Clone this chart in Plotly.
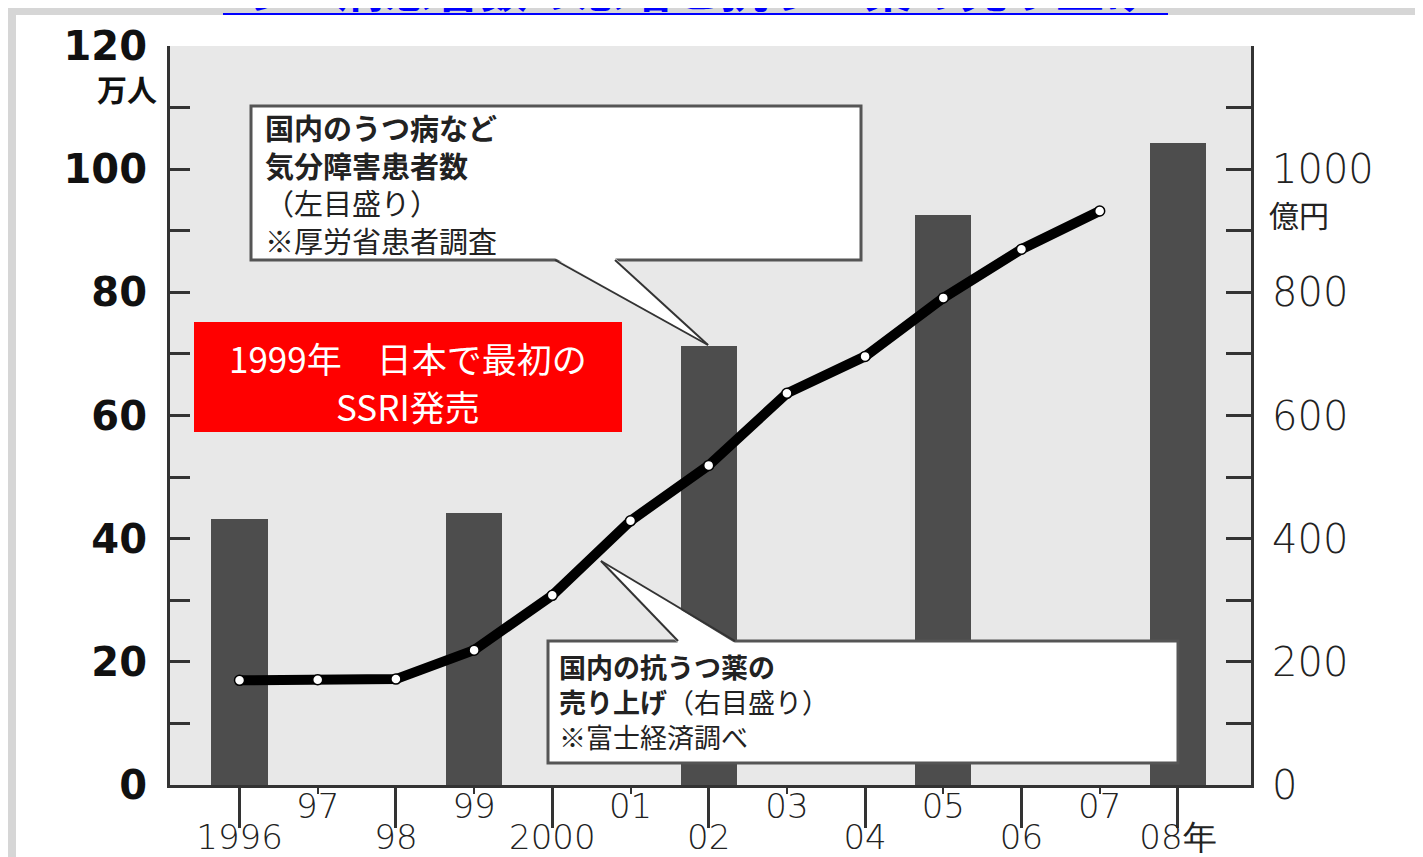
import plotly.graph_objects as go

# ---------------- data ----------------
bar_years = [1996, 1999, 2002, 2005, 2008]
patients = [43.2, 44.2, 71.3, 92.5, 104.2]          # 万人 (left axis)

sales_years = [1996, 1997, 1998, 1999, 2000, 2001, 2002, 2003, 2004, 2005, 2006, 2007]
sales = [170, 171, 172, 219, 308, 429, 519, 636, 696, 791, 870, 932]   # 億円 (right axis)

even_ticks = [1996, 1998, 2000, 2002, 2004, 2006, 2008]
even_labels = ["1996", "98", "2000", "02", "04", "06", "08年"]
odd_ticks = [1997, 1999, 2001, 2003, 2005, 2007]
odd_labels = ["97", "99", "01", "03", "05", "07"]

left_ticks = [0, 20, 40, 60, 80, 100, 120]
right_ticks = [0, 200, 400, 600, 800, 1000]

# ---------------- layout geometry ----------------
W, H = 1423, 857
ML, MR, MT, MB = 162, 180, 38, 80
PW, PH = W - ML - MR, H - MT - MB


def X(px):
    return (px - ML) / PW


def Y(py):
    return (H - MB - py) / PH


AX = "#333333"
TXT = "#111111"

fig = go.Figure()

fig.add_trace(go.Bar(
    x=bar_years, y=patients, width=0.72,
    marker=dict(color="#4d4d4d", line=dict(width=0)),
    yaxis="y", xaxis="x", showlegend=False, hoverinfo="x+y",
))

fig.add_trace(go.Scatter(
    x=sales_years, y=sales, yaxis="y2", xaxis="x",
    mode="lines+markers",
    line=dict(color="black", width=10),
    marker=dict(size=10, color="white", line=dict(color="black", width=1.5)),
    showlegend=False,
))

# invisible helper trace so that the odd-year overlay axis is drawn
fig.add_trace(go.Scatter(
    x=odd_ticks, y=[None] * len(odd_ticks), xaxis="x2", yaxis="y",
    mode="markers", showlegend=False, hoverinfo="skip",
))

xrange_ = [1995.111, 2008.935]
XFONT = dict(family="DejaVu Sans", size=34, color="#222", weight=300)

fig.update_layout(
    width=W, height=H,
    margin=dict(l=ML, r=MR, t=MT, b=MB, autoexpand=False),
    paper_bgcolor="white",
    plot_bgcolor="#e8e8e8",
    bargap=0,
    xaxis=dict(
        range=xrange_, tickmode="array", tickvals=even_ticks, ticktext=even_labels,
        ticks="outside", ticklen=40, tickwidth=3, tickcolor=AX,
        showline=True, linewidth=3, linecolor=AX, showgrid=False, zeroline=False,
        tickfont=XFONT, ticklabelstandoff=-20, fixedrange=True,
    ),
    xaxis2=dict(
        range=xrange_, overlaying="x", anchor="y", side="bottom",
        tickmode="array", tickvals=odd_ticks, ticktext=odd_labels,
        ticks="outside", ticklen=8, tickwidth=2, tickcolor=AX,
        showline=False, showgrid=False, zeroline=False,
        tickfont=XFONT, ticklabelstandoff=-17, fixedrange=True,
    ),
    yaxis=dict(
        range=[0, 120], tickmode="array", tickvals=left_ticks,
        ticks="inside", ticklen=20, tickwidth=3, tickcolor=AX,
        minor=dict(dtick=10, ticks="inside", ticklen=20, tickwidth=3, tickcolor=AX, showgrid=False),
        showline=True, linewidth=3, linecolor=AX, showgrid=False, zeroline=False,
        tickfont=dict(family="DejaVu Sans", size=40, color=TXT, weight="bold"),
        ticklabelstandoff=12, fixedrange=True,
    ),
    yaxis2=dict(
        range=[0, 1200], overlaying="y", side="right", anchor="x",
        tickmode="array", tickvals=right_ticks,
        ticks="inside", ticklen=25, tickwidth=3, tickcolor=AX,
        minor=dict(dtick=100, ticks="inside", ticklen=25, tickwidth=3, tickcolor=AX, showgrid=False),
        showline=True, linewidth=3, linecolor=AX, showgrid=False, zeroline=False,
        tickfont=dict(family="DejaVu Sans", size=40, color="#222", weight=300),
        ticklabelstandoff=10, fixedrange=True,
    ),
)

shapes = []
# textured page border strips
for (x0, x1, y0, y1) in [(0, 8, 0, H), (1412, W, 0, H), (0, W, 0, 7)]:
    shapes.append(dict(type="rect", xref="paper", yref="paper", layer="below",
                       x0=X(x0), x1=X(x1), y0=Y(y1), y1=Y(y0),
                       fillcolor="#d6d6d6", line=dict(width=0)))
# small blue square bottom right
shapes.append(dict(type="rect", xref="paper", yref="paper", layer="above",
                   x0=X(1414), x1=X(1423), y0=Y(857), y1=Y(840),
                   fillcolor="#4444cc", line=dict(width=0)))
# title underline
shapes.append(dict(type="line", xref="paper", yref="paper", layer="above",
                   x0=X(215), x1=X(1160), y0=Y(6), y1=Y(6),
                   line=dict(color="#0000ff", width=2)))

BOX_LINE = "#555555"
# callout box 1
shapes.append(dict(type="rect", xref="paper", yref="paper", layer="above",
                   x0=X(243), x1=X(853), y0=Y(252), y1=Y(98),
                   fillcolor="white", line=dict(color=BOX_LINE, width=3)))
p1_tip, p1_a, p1_b = (700, 337), (547, 252), (607, 252)
shapes.append(dict(type="path", xref="paper", yref="paper", layer="above",
                   path=f"M {X(p1_a[0])} {Y(p1_a[1]-2)} L {X(p1_tip[0])} {Y(p1_tip[1])} L {X(p1_b[0])} {Y(p1_b[1]-2)} Z",
                   fillcolor="white", line=dict(width=0)))
for pt in (p1_a, p1_b):
    shapes.append(dict(type="line", xref="paper", yref="paper", layer="above",
                       x0=X(pt[0]), y0=Y(pt[1]), x1=X(p1_tip[0]), y1=Y(p1_tip[1]),
                       line=dict(color="#333333", width=2)))
# callout box 2
shapes.append(dict(type="rect", xref="paper", yref="paper", layer="above",
                   x0=X(540), x1=X(1170), y0=Y(755), y1=Y(633),
                   fillcolor="white", line=dict(color=BOX_LINE, width=3)))
p2_tip, p2_a, p2_b = (593, 553), (670, 633), (727, 633)
shapes.append(dict(type="path", xref="paper", yref="paper", layer="above",
                   path=f"M {X(p2_a[0])} {Y(p2_a[1]+2)} L {X(p2_tip[0])} {Y(p2_tip[1])} L {X(p2_b[0])} {Y(p2_b[1]+2)} Z",
                   fillcolor="white", line=dict(width=0)))
for pt in (p2_a, p2_b):
    shapes.append(dict(type="line", xref="paper", yref="paper", layer="above",
                       x0=X(pt[0]), y0=Y(pt[1]), x1=X(p2_tip[0]), y1=Y(p2_tip[1]),
                       line=dict(color="#333333", width=2)))
# red box
shapes.append(dict(type="rect", xref="paper", yref="paper", layer="above",
                   x0=X(186), x1=X(614), y0=Y(424), y1=Y(314),
                   fillcolor="#ff0000", line=dict(width=0)))
fig.update_layout(shapes=shapes)

JP = "Noto Sans CJK JP"
ann = []


def txt(text, px, py, size, color=TXT, xanchor="left", weight="normal", family=JP):
    ann.append(dict(text=text, x=X(px), y=Y(py), xref="paper", yref="paper",
                    xanchor=xanchor, yanchor="middle", showarrow=False, borderpad=0,
                    align=xanchor,
                    font=dict(family=family, size=size, color=color, weight=weight)))


# title (clipped at top edge of the page)
ann.append(dict(text="うつ病患者数の急増と抗うつ薬の売り上げ", x=X(688), y=Y(14), xref="paper", yref="paper",
                xanchor="center", yanchor="bottom", showarrow=False, borderpad=0,
                font=dict(family=JP, size=48, color="#0000ff", weight="bold")))

# axis units
txt("万人", 150, 80, 30, xanchor="right", weight="bold")
txt("億円", 1260, 206, 30, color="#222")

# box 1 text (one block, 4 lines)
txt("<b>国内のうつ病など</b><br><b>気分障害患者数</b><br>（左目盛り）<br>※厚労省患者調査",
    256, 175, 29, color="#222")

# box 2 text (one block, 3 lines)
txt("<b>国内の抗うつ薬の</b><br><b>売り上げ</b>（右目盛り）<br>※富士経済調べ",
    550, 693, 27, color="#222")

# red box text
txt("1999年　日本で最初の", 400, 349, 35, color="white", xanchor="center")
txt("SSRI発売", 400, 397, 35, color="white", xanchor="center")

fig.update_layout(annotations=ann)

fig.write_html("out.html")
